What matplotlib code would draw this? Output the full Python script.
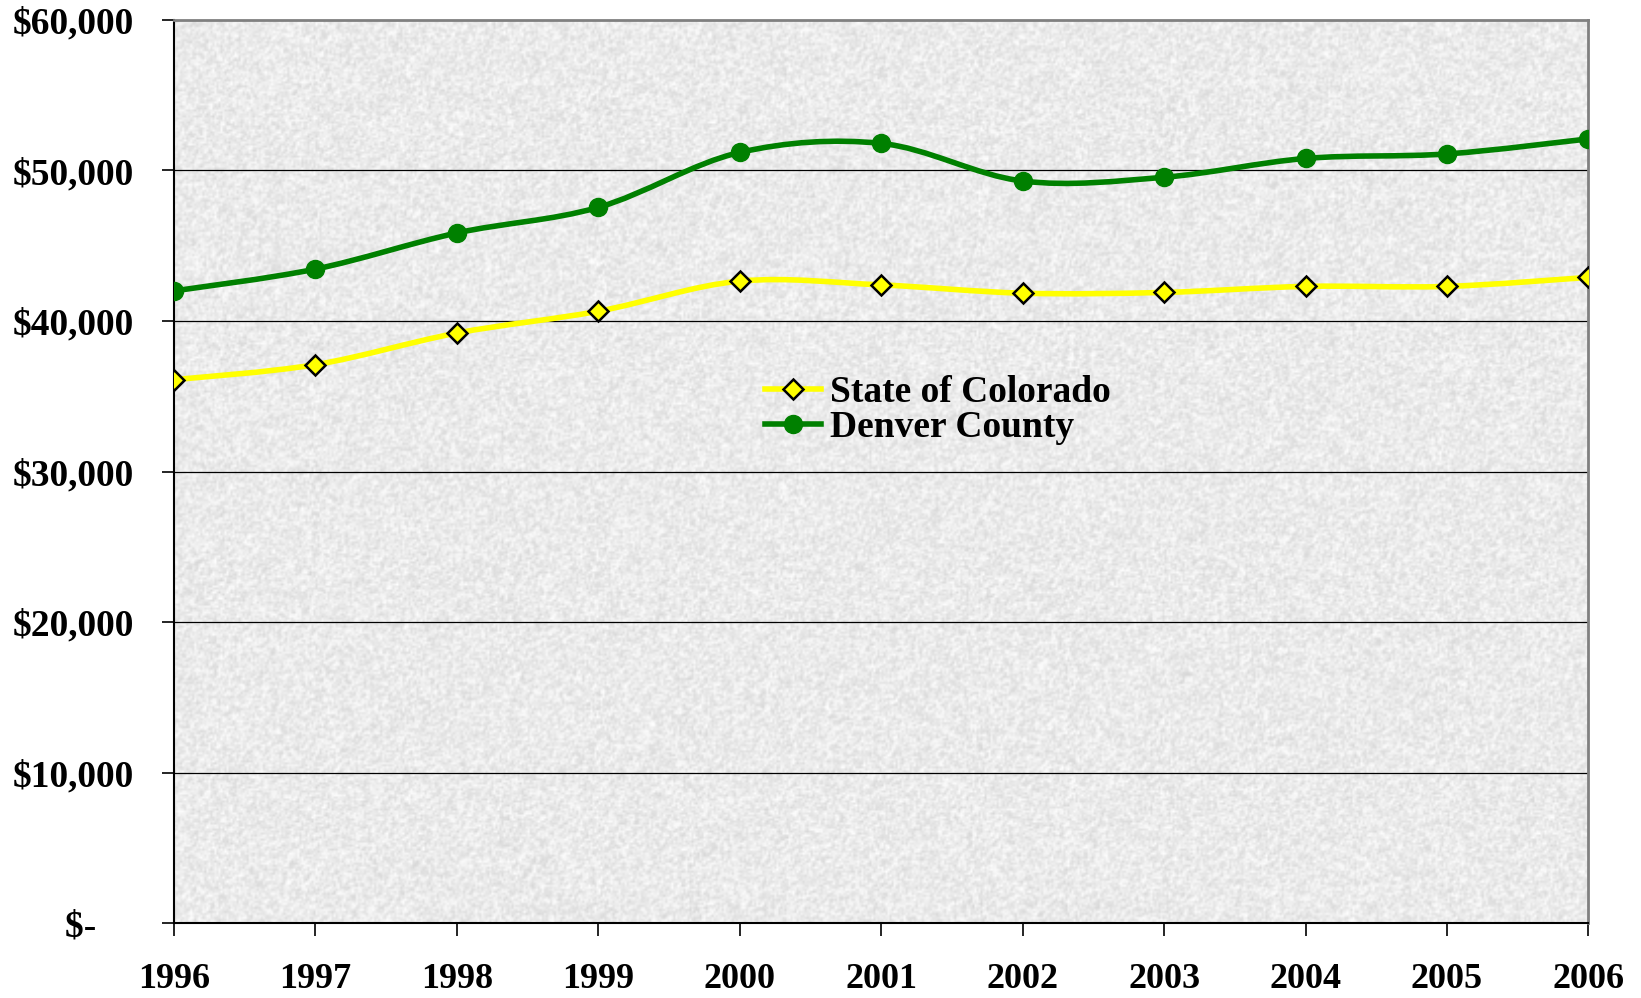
import numpy as np
import matplotlib
matplotlib.use("Agg")
from matplotlib import pyplot as plt
from matplotlib.path import Path
from matplotlib.patches import PathPatch
from matplotlib.lines import Line2D
from matplotlib.ticker import FuncFormatter, MultipleLocator

years = [1996, 1997, 1998, 1999, 2000, 2001, 2002, 2003, 2004, 2005, 2006]
colorado = [36100, 37100, 39200, 40650, 42650, 42400, 41850, 41900, 42300, 42300, 42900]
denver = [42000, 43450, 45850, 47550, 51200, 51800, 49300, 49550, 50800, 51100, 52100]

series_names = ["State of Colorado", "Denver County"]

plt.rcParams['font.family'] = ['Liberation Serif', 'DejaVu Serif']
plt.rcParams['font.weight'] = 'bold'


def smooth_path(x, y):
    # excel-like smoothed line: cubic bezier with catmull-rom control points
    pts = np.column_stack([x, y]).astype(float)
    n = len(pts)
    verts = [pts[0]]
    codes = [Path.MOVETO]
    for i in range(n - 1):
        p0 = pts[i - 1] if i > 0 else pts[i]
        p1 = pts[i]
        p2 = pts[i + 1]
        p3 = pts[i + 2] if i + 2 < n else pts[i + 1]
        c1 = p1 + (p2 - p0) / 6.0
        c2 = p2 - (p3 - p1) / 6.0
        verts += [c1, c2, p2]
        codes += [Path.CURVE4] * 3
    return Path(verts, codes)


fig = plt.figure(figsize=(16.41, 9.98), dpi=100)
ax = fig.add_axes([0.106, 0.075, 0.862, 0.905])

# granite-ish texture for the plot area
rng = np.random.default_rng(3)
tex = rng.random((450, 700))
tex = (2 * tex + np.roll(tex, 1, 0) + np.roll(tex, 1, 1)) / 4.0
tex = 0.84 + 0.16 * tex
ax.imshow(tex, cmap='gray', vmin=0, vmax=1, extent=[1996, 2006, 0, 60000],
          aspect='auto', zorder=0, interpolation='bilinear')

for v in range(10000, 60000, 10000):
    ax.axhline(v, color='black', lw=0.9, zorder=1)

ax.add_patch(PathPatch(smooth_path(years, colorado), fill=False, edgecolor='#ffff00',
                       lw=4, zorder=2, capstyle='round'))
ax.add_patch(PathPatch(smooth_path(years, denver), fill=False, edgecolor='#008000',
                       lw=4, zorder=2, capstyle='round'))
ax.plot(years, colorado, linestyle='none', marker='D', markersize=10,
        markerfacecolor='#ffff00', markeredgecolor='black', markeredgewidth=1.8, zorder=3)
ax.plot(years, denver, linestyle='none', marker='o', markersize=13,
        markerfacecolor='#008000', markeredgecolor='#008000', zorder=3)

ax.set_xlim(1996, 2006)
ax.set_ylim(0, 60000)
ax.set_xticks(years)
ax.yaxis.set_major_locator(MultipleLocator(10000))


def money(v, pos):
    if v == 0:
        return "$-    "
    return "${:,.0f}".format(v)


ax.yaxis.set_major_formatter(FuncFormatter(money))
ax.tick_params(axis='both', direction='out', length=9, width=1.2, color='black')
ax.tick_params(axis='x', pad=20, labelsize=26)
ax.tick_params(axis='y', pad=20, labelsize=27)
for lab in ax.get_xticklabels() + ax.get_yticklabels():
    lab.set_fontweight('bold')

ax.spines['left'].set_color('black')
ax.spines['bottom'].set_color('black')
ax.spines['left'].set_linewidth(1.5)
ax.spines['bottom'].set_linewidth(1.5)
ax.spines['top'].set_color('#808080')
ax.spines['right'].set_color('#808080')
ax.spines['top'].set_linewidth(2)
ax.spines['right'].set_linewidth(2)

handles = [
    Line2D([], [], color='#ffff00', lw=4, marker='D', markersize=10,
           markerfacecolor='#ffff00', markeredgecolor='black', markeredgewidth=1.8),
    Line2D([], [], color='#008000', lw=4, marker='o', markersize=13,
           markerfacecolor='#008000', markeredgecolor='#008000'),
]
leg = ax.legend(handles, series_names, loc='upper left', bbox_to_anchor=(0.399, 0.636),
                frameon=False, prop={'size': 27, 'weight': 'bold'},
                handlelength=1.5, handletextpad=0.25, labelspacing=0.0,
                borderpad=0.2)

fig.savefig("out.png", dpi=100)
